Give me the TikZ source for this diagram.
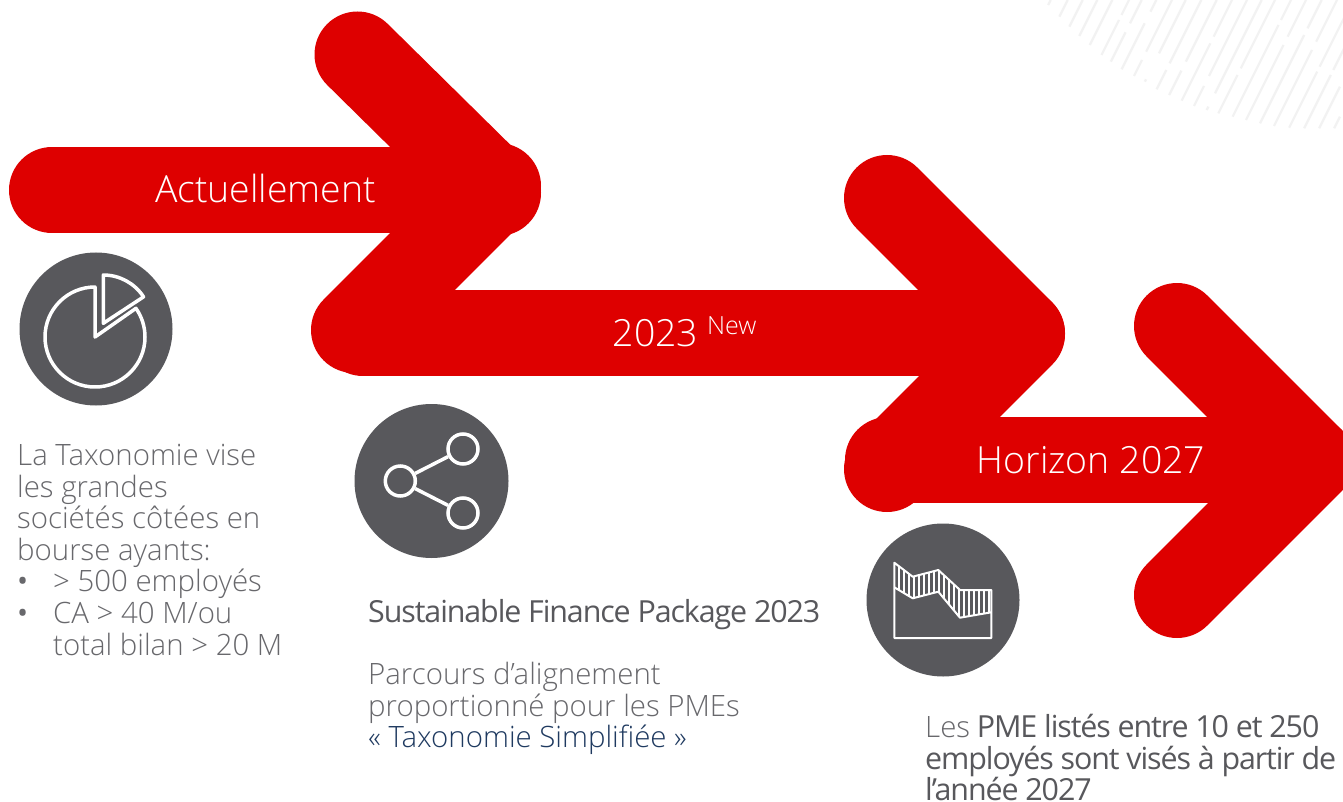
\documentclass[tikz,border=0pt]{standalone}
\usepackage{fontspec}
\setmainfont{Open Sans}
\newfontfamily\lightf{Open Sans Light}
\newfontfamily\tightf{Open Sans}[LetterSpace=-3.6]
\definecolor{arrowred}{HTML}{DE0000}
\definecolor{icongrey}{HTML}{58585C}
\definecolor{bodygrey}{HTML}{68686C}
\definecolor{darkgrey}{HTML}{58585C}
\definecolor{navy}{HTML}{1F3A60}
\definecolor{stripe}{HTML}{F2F2F2}
\tikzset{
  arrowline/.style={draw=arrowred,line width=86pt,line cap=round,line join=round},
  iconbg/.style={fill=icongrey,draw=none,circle,inner sep=0pt},
  iconline/.style={draw=white,line width=3.5pt,line join=round},
  iconring/.style={draw=white,line width=3.5pt,circle,minimum size=30pt,inner sep=0pt,fill=icongrey},
  hatchline/.style={draw=white,line width=1.1pt},
  stripeline/.style={draw=stripe,line width=2.2pt},
  headtext/.style={text=white,inner sep=0pt,font=\lightf\fontsize{37.4}{40}\selectfont,anchor=base},
  bodytext/.style={inner sep=0pt,anchor=north west,align=left,text=bodygrey,font=\lightf\fontsize{29.4}{31.6}\selectfont},
}
\begin{document}
\begin{tikzpicture}[x=1pt,y=-1pt]
\useasboundingbox (0,0) rectangle (1343,802);
\clip (0,0) rectangle (1343,802);
\fill[white] (0,0) rectangle (1343,802);
% background stripes
\foreach \xz/\bz/\ga/\gb in {32/15/-1/-1,83/50/-1/-1,128/80/-1/-1,172/108/-1/-1,217/135/-1/-1,267/165/60/45,305/185/97/70,349/208/70/35,396/228/180/155,437/245/238/160,484/268/210/190,530/285/212/185,576/302/130/110,621/318/258/228,665/330/320/280,705/340/225/205,753/350/75/60,798/360/135/110,845/370/105/85,891/378/150/125,939/383/215/200,985/385/225/210,1030/385/260/235,1075/385/350/325,1120/385/390/380,1165/385/390/380}{
  \pgfmathsetmacro{\xa}{1040+\xz/3-\bz/6}
  \pgfmathsetmacro{\ya}{\bz/3}
  \ifdim\ga pt<0pt
    \draw[stripeline] (\xa,\ya) -- ++(\ya/2,-\ya);
  \else
    \pgfmathsetmacro{\xb}{1040+\xz/3-\ga/6}
    \pgfmathsetmacro{\yb}{\ga/3}
    \pgfmathsetmacro{\xc}{1040+\xz/3-\gb/6}
    \pgfmathsetmacro{\yc}{\gb/3}
    \draw[stripeline] (\xa,\ya) -- (\xb,\yb);
    \draw[stripeline] (\xc,\yc) -- ++(\yc/2,-\yc);
  \fi
}
% arrows
\draw[arrowline] (52,190) -- (498,190);
\draw[arrowline] (357.5,54.5) -- (498,193);
\draw[arrowline] (498,186) -- (354,330);
\draw[arrowline] (363,333) -- (1022,333);
\draw[arrowline] (887,198) -- (1021,332);
\draw[arrowline] (1022,334) -- (887,469);
\draw[arrowline] (888,460) -- (1311,460);
\draw[arrowline] (1177,326) -- (1311.5,460.5) -- (1177,595);
% arrow labels
\node[headtext] (lab1) at (265.5,203) {Actuellement};
\node[headtext,anchor=base west] (lab2) at (612.5,346) {2023\hspace{9pt}\raisebox{11.5pt}{\fontsize{25}{26}\selectfont New}};
\node[headtext] (lab3) at (1091,473) {Horizon 2027};
% icon 1: pie chart
\node[iconbg,minimum size=153pt] (ic1) at (96,329) {};
\draw[iconline] (95,337) -- (95,287) arc[start angle=-90,end angle=-395,radius=50] -- cycle;
\draw[iconline] (103.3,323.3) -- (103.3,275) arc[start angle=-90,end angle=-33,radius=48] -- cycle;
% icon 2: share
\node[iconbg,minimum size=154pt] (ic2) at (431.5,481) {};
\node[iconring] (sh1) at (463,449) {};
\node[iconring] (sh2) at (400.3,481) {};
\node[iconring] (sh3) at (463,513) {};
\draw[iconline] (sh2) -- (sh1);
\draw[iconline] (sh2) -- (sh3);
% icon 3: area chart
\node[iconbg,minimum size=153pt] (ic3) at (943,600) {};
\begin{scope}
  \clip (894.3,562.7) -- (912.7,576.7) -- (938.3,570) -- (960,590) -- (991.3,590) -- (991.3,612.3) -- (960,617.7) -- (938.3,591.7) -- (912.7,598.3) -- (894.3,587.3) -- cycle;
  \foreach \hx in {899,904,...,990}{\draw[hatchline] (\hx,555) -- (\hx,625);}
\end{scope}
\draw[iconline,line width=2pt] (894.3,562.7) -- (912.7,576.7) -- (938.3,570) -- (960,590) -- (991.3,590) -- (991.3,638) -- (894.3,638) -- cycle;
\draw[iconline,line width=2pt] (894.3,587.3) -- (912.7,598.3) -- (938.3,591.7) -- (960,617.7) -- (991.3,612.3);
% body text
\node[bodytext] (txt1) at (17,444) {La Taxonomie vise\\les grandes\\sociétés côtées en\\bourse ayants:\\\makebox[36pt][l]{\rmfamily•}> 500 employés\\\makebox[36pt][l]{\rmfamily•}CA > 40 M/ou\\\hspace*{36pt}total bilan > 20 M};
\node[bodytext,font=\tightf\fontsize{30.4}{32}\selectfont,text=darkgrey] (txt2) at (368,599) {Sustainable Finance Package 2023};
\node[bodytext] (txt3) at (368,662) {Parcours d’alignement\\proportionné pour les PMEs\\\textcolor{navy}{« Taxonomie Simplifiée »}};
\node[bodytext,text=darkgrey,font=\tightf\fontsize{30.4}{31.7}\selectfont] (txt4) at (925,714) {{\lightf\fontsize{29.4}{31.7}\selectfont\textcolor{bodygrey}{Les}} PME listés entre 10 et 250\\employés sont visés à partir de\\l’année 2027};
\end{tikzpicture}
\end{document}
